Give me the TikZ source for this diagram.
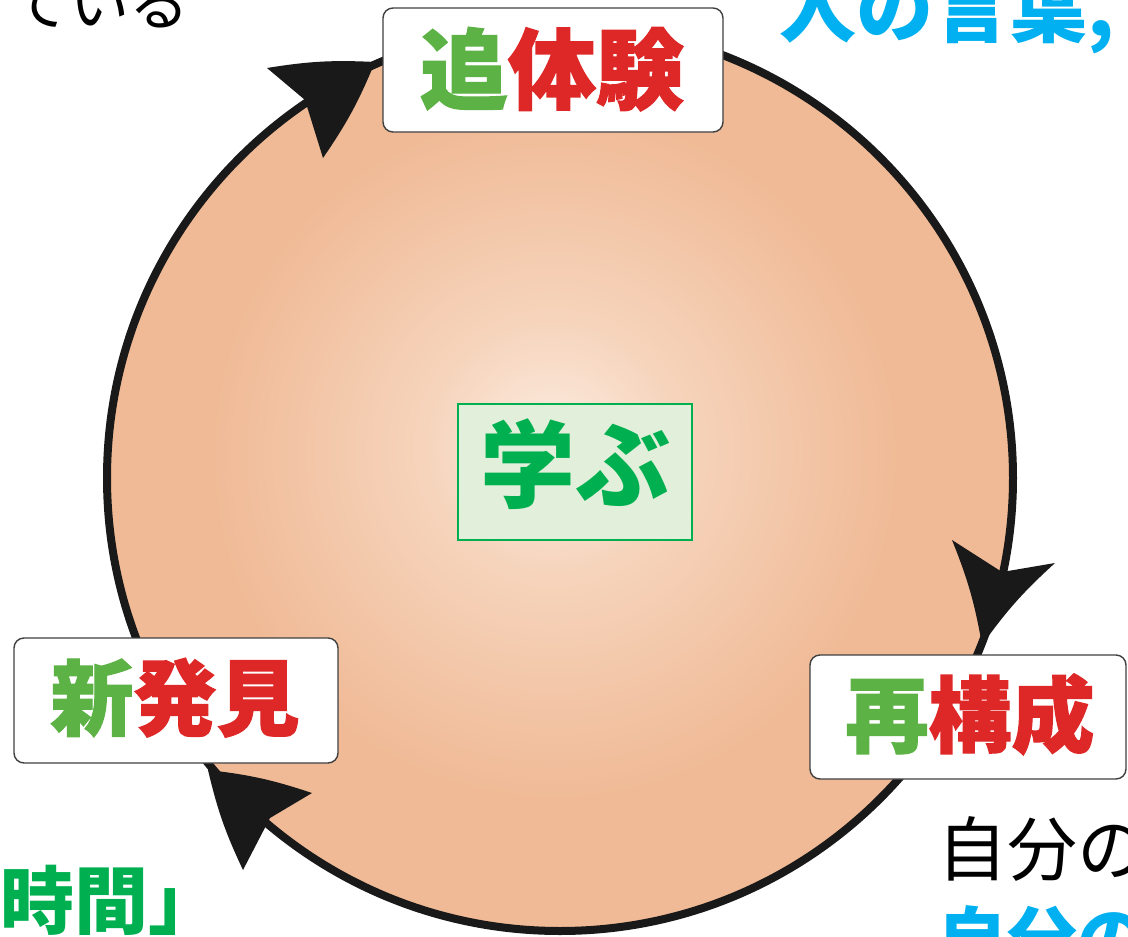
\documentclass[tikz,border=0pt]{standalone}
\usepackage{fontspec}
\newfontfamily\jp{Noto Sans CJK JP}
\newfontfamily\jpheavy[FakeBold=1.5]{Noto Sans CJK JP}
\definecolor{pcenter}{RGB}{252,236,224}
\definecolor{pmid}{RGB}{246,212,188}
\definecolor{pedge}{RGB}{240,186,150}
\definecolor{tgreen}{RGB}{0,176,80}
\definecolor{tblue}{RGB}{0,176,240}
\definecolor{bgreen}{RGB}{92,178,68}
\definecolor{bred}{RGB}{222,40,40}
\definecolor{cfill}{RGB}{226,239,218}
\pgfdeclareradialshading{peach}{\pgfpoint{-0.5bp}{2bp}}{color(0bp)=(pcenter); color(7bp)=(pmid); color(19bp)=(pedge); color(25bp)=(pedge); color(50bp)=(pedge)}
\tikzset{
  ring/.style={line width=8pt, draw=black!90},
  headfill/.style={fill=black!90, draw=none},
  stagebox/.style={draw=black!75, line width=1.4pt, fill=white, rounded corners=10pt, inner sep=0pt},
  heavy/.style={font={\jpheavy\bfseries\fontsize{#1}{#1}\selectfont}, anchor=base, inner sep=0pt},
}
\begin{document}
\begin{tikzpicture}[x=1pt,y=-1pt]
\useasboundingbox (0,0) rectangle (1128,937);
\clip (0,0) rectangle (1128,937);
% ring
\coordinate (c) at (560,478);
\shade[shading=peach] (c) circle[radius=453pt];
\draw[ring] (c) circle[radius=453pt];
% arrowheads
\fill[headfill] (375,62) to[bend right=6] (267,68) -- (305,100) -- (323,158) to[bend right=6] cycle;
\fill[headfill] (982,645) to[bend right=6] (952,540) -- (1002,572) -- (1055,563) to[bend right=6] cycle;
\fill[headfill] (208,770) to[bend right=6] (243,870) -- (270,818) -- (312,793) to[bend right=6] cycle;
% stage boxes
\node[stagebox, minimum width=340pt, minimum height=124pt] (b1) at (553,70) {};
\node[heavy=88] (t1) at (552,102.5) {\textcolor{bgreen}{追}\textcolor{bred}{体験}};
\node[stagebox, minimum width=324pt, minimum height=125pt] (b2) at (176,700.5) {};
\node[heavy=83] (t2) at (175,729) {\textcolor{bgreen}{新}\textcolor{bred}{発見}};
\node[stagebox, minimum width=316pt, minimum height=124pt] (b3) at (968,717) {};
\node[heavy=83] (t3) at (970,746) {\textcolor{bgreen}{再}\textcolor{bred}{構成}};
% centre
\node[draw=tgreen, fill=cfill, line width=1.5pt, minimum width=234pt, minimum height=136pt, inner sep=0pt] (ctr) at (575,472) {};
\node[font={\jp\bfseries\fontsize{95}{95}\selectfont}, text=tgreen, anchor=base, inner sep=0pt] (ct) at (575,500) {学ぶ};
% surrounding text
\node[font={\jp\fontsize{60}{60}\selectfont}, anchor=base east, inner sep=0pt] (tl) at (190,25) {ている};
\node[font={\jp\bfseries\fontsize{77}{77}\selectfont}, text=tblue, anchor=base west, inner sep=0pt] (tr) at (779,36) {人の言葉,};
\node[font={\jp\bfseries\fontsize{74}{74}\selectfont}, text=tgreen, anchor=base west, inner sep=0pt] (bl) at (0,928) {時間」};
\node[font={\jp\fontsize{70}{70}\selectfont}, anchor=base west, inner sep=0pt] (br1) at (937,875) {自分の};
\node[font={\jp\bfseries\fontsize{70}{70}\selectfont}, text=tblue, anchor=base west, inner sep=0pt] (br2) at (937,965) {自分の};
\end{tikzpicture}
\end{document}
